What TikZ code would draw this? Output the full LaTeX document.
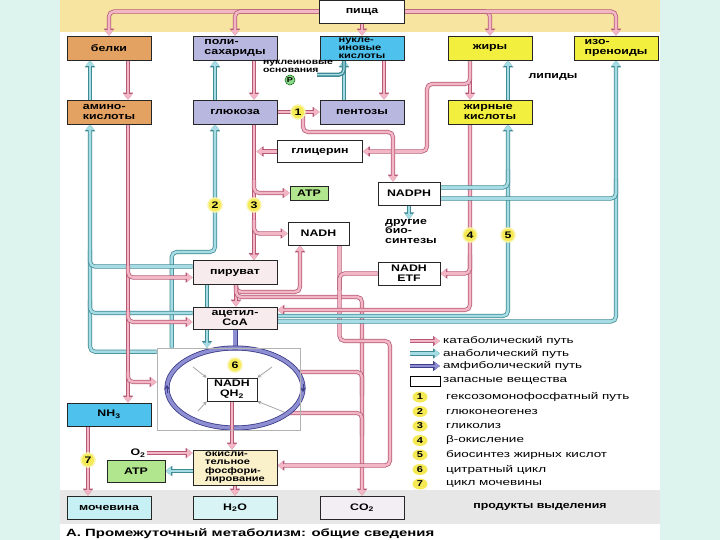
\documentclass[tikz,border=0pt]{standalone}
\usepackage{fontspec}
\setmainfont{Liberation Sans}[FakeStretch=1.3]
\newfontfamily\legf{Liberation Sans}[FakeStretch=1.42]
\usetikzlibrary{arrows.meta,shapes.geometric}
\definecolor{mint}{HTML}{DDF3EE}
\definecolor{bandY}{HTML}{F6E4A0}
\definecolor{bandG}{HTML}{E7E7E7}
\definecolor{catL}{HTML}{F2B6C4}
\definecolor{catD}{HTML}{B65A78}
\definecolor{anaL}{HTML}{A6DCE4}
\definecolor{anaD}{HTML}{3F8A94}
\definecolor{amL}{HTML}{8E8ED2}
\definecolor{amD}{HTML}{3E3E8A}
\definecolor{orng}{HTML}{E4A262}
\definecolor{lav}{HTML}{B7B7E0}
\definecolor{cyn}{HTML}{4EC2EC}
\definecolor{yel}{HTML}{F3EF3E}
\definecolor{grn}{HTML}{B2E68E}
\definecolor{ppink}{HTML}{F7EBEE}
\definecolor{pyel}{HTML}{FAF1CB}
\definecolor{lcyn}{HTML}{C6F0F4}
\definecolor{lcynb}{HTML}{D8F4F5}
\definecolor{plil}{HTML}{F3EEF3}
\definecolor{numY}{HTML}{F5EA55}
\definecolor{pgrn}{HTML}{8CD68C}
\pgfdeclarelayer{bg}
\pgfdeclarelayer{conn}
\pgfsetlayers{bg,conn,main}
\tikzset{
  flowA/.style n args={2}{draw=#2, line width=2.6pt, rounded corners=5pt,
    preaction={draw=#1, line width=4.1pt, -{Triangle[length=7pt,width=10pt]}},
    -{Triangle[length=5.5pt,width=7.4pt]}},
  flowN/.style n args={2}{draw=#2, line width=2.6pt, rounded corners=5pt,
    preaction={draw=#1, line width=4.1pt}},
  cat/.style={flowA={catD}{catL}}, catn/.style={flowN={catD}{catL}},
  ana/.style={flowA={anaD}{anaL}}, anan/.style={flowN={anaD}{anaL}},
  amph/.style={flowA={amD}{amL}}, amphn/.style={flowN={amD}{amL}},
  lbl/.style={font=\fontsize{9.5}{10}\selectfont\bfseries},
  box/.style={lbl, draw=black!85, line width=0.6pt, minimum width=84pt,
    minimum height=24pt, inner sep=1pt, align=left},
  num/.style={circle, fill=numY, draw=numY!50!white, line width=1.5pt, inner sep=0pt,
    minimum size=14pt, font=\fontsize{9.5}{9.5}\selectfont\bfseries},
  lnum/.style={ellipse, fill=numY, inner sep=0pt, minimum width=15pt,
    minimum height=11pt, font=\fontsize{8.5}{8.5}\selectfont\bfseries},
  leg/.style={anchor=west, inner sep=0pt, font=\legf\fontsize{9.5}{10}\selectfont},
  gar/.style={draw=black!35, line width=0.8pt, -{Stealth[length=4pt,width=4pt]}},
}
\begin{document}
\begin{tikzpicture}[x=1pt,y=-1pt]
\useasboundingbox (0,0) rectangle (720,540);
\begin{pgfonlayer}{bg}
  \fill[mint] (0,0) rectangle (720,540);
  \fill[white] (60,0) rectangle (660,540);
  \fill[bandY] (60,0) rectangle (660,32);
  \fill[bandG] (60,490) rectangle (660,524);
\end{pgfonlayer}

% ---------- boxes ----------
\node[box, fill=white, minimum width=85pt, minimum height=23pt, align=center] (pishcha) at (362,11.5) {пища};
\node[box, fill=orng, align=center] (belki) at (109,48) {белки};
\node[box, fill=lav] (poly) at (235,48) {поли-\\сахариды};
\node[box, fill=cyn, font=\fontsize{8.5}{8}\selectfont\bfseries] (nuc) at (362,48) {нукле-\\иновые\\кислоты};
\node[box, fill=yel, align=center] (zhiry) at (490,48) {жиры};
\node[box, fill=yel] (izo) at (616,48) {изо-\\преноиды};

\node[box, fill=orng] (amino) at (109,112) {амино-\\кислоты};
\node[box, fill=lav, align=center] (gluc) at (235,112) {глюкоза};
\node[box, fill=lav, align=center] (pent) at (362,112) {пентозы};
\node[box, fill=yel] (fatty) at (490,112) {жирные\\кислоты};

\node[box, fill=white, minimum width=85pt, minimum height=22pt, align=center] (glyc) at (320,151.5) {глицерин};
\node[box, fill=grn, minimum width=38pt, minimum height=14pt, align=center] (atpA) at (309,193) {ATP};
\node[box, fill=white, minimum width=62pt, minimum height=23pt, align=center] (nadph) at (409,193.5) {NADPH};
\node[box, fill=white, minimum width=61pt, minimum height=23pt, align=center] (nadh) at (318.5,233.5) {NADH};
\node[box, fill=ppink, minimum height=24pt, align=center] (pyr) at (235,272.5) {пируват};
\node[box, fill=white, minimum width=62pt, minimum height=23pt, align=center] (etf) at (409,273.5) {NADH\\ETF};
\node[box, fill=ppink, minimum height=22pt, align=center] (acoa) at (235,318) {ацетил-\\CoA};
\node[draw=black!30, line width=0.6pt, minimum width=143pt, minimum height=82pt, inner sep=0pt] (cyc) at (228.5,389) {};
\node[box, fill=white, minimum width=50pt, minimum height=23pt, align=center] (nadhq) at (232,389.5) {NADH\\QH\textsubscript{2}};
\node[box, fill=cyn, minimum height=23pt, align=center] (nh3) at (109,414.5) {NH\textsubscript{3}};
\node[box, fill=grn, minimum width=58pt, minimum height=22pt, align=center] (atpB) at (136,471) {ATP};
\node[box, fill=pyel, minimum height=35pt, font=\fontsize{8.5}{8.2}\selectfont\bfseries] (ox) at (235,467.5) {окисли-\\тельное\\фосфори-\\лирование};
\node[box, fill=lcyn, minimum height=23pt, align=center] (urea) at (109,507.5) {мочевина};
\node[box, fill=lcynb, minimum height=23pt, align=center] (h2o) at (235,507.5) {H\textsubscript{2}O};
\node[box, fill=plil, minimum height=23pt, align=center] (co2) at (362,507.5) {CO\textsubscript{2}};

% ---------- free texts ----------
\node[align=left, inner sep=0pt, font=\fontsize{8}{8}\selectfont\bfseries] (nbase) at (298,66) {нуклеиновые\\основания};
\node[circle, fill=pgrn, draw=green!40!black, line width=0.5pt, inner sep=0pt, minimum size=10pt, font=\fontsize{7}{7}\selectfont\bfseries] (pcirc) at (290,80) {P};
\node[lbl, inner sep=0pt] (lip) at (553,77) {липиды};
\node[lbl, anchor=north west, align=left, inner sep=0pt, font=\fontsize{9.5}{9.5}\selectfont\bfseries] (bio) at (385,219) {другие\\био-\\синтезы};
\node[lbl, inner sep=1pt] (o2) at (138,453) {O\textsubscript{2}};

% ---------- connectors ----------
\begin{pgfonlayer}{conn}
  % food
  \draw[cat] (pishcha.west) -| (belki.north);
  \draw[cat] (pishcha.west) -| (poly.north);
  \draw[cat] (pishcha.south) -- (nuc.north);
  \draw[cat] (pishcha.east) -| (zhiry.north);
  \draw[cat] (pishcha.east) -| (izo.north);
  % top to second row
  \draw[ana] ([xshift=-19]amino.north) -- ([xshift=-19]belki.south);
  \draw[cat] ([xshift=19]belki.south) -- ([xshift=19]amino.north);
  \draw[ana] ([xshift=-20]gluc.north) -- ([xshift=-20]poly.south);
  \draw[cat] ([xshift=19]poly.south) -- ([xshift=19]gluc.north);
  \draw[ana] ([xshift=-18]pent.north) -- ([xshift=-18]nuc.south);
  \draw[cat] ([xshift=22]nuc.south) -- ([xshift=22]pent.north);
  \draw[anan, line width=1.2pt, preaction={draw=anaD, line width=2.2pt}] ([xshift=-16]nbase.east |- pcirc.north) -| ([xshift=-18]nuc.south);
  \draw[ana] ([xshift=18]fatty.north) -- ([xshift=18]zhiry.south);
  \draw[cat] ([xshift=-20]zhiry.south) -- ([xshift=-20]fatty.north);
  \draw[cat] ([xshift=-20]zhiry.south) |- (427,84) |- (glyc.east);
  % pentose phosphate
  \draw[cat] (gluc.east) -- (pent.west);
  \draw[cat] (303,112) |- (393,132) -- ([xshift=-16]nadph.north);
  % glycolysis
  \draw[cat] ([xshift=19]gluc.south) -- ([xshift=19]pyr.north);
  \draw[cat] (glyc.west) -- (256.5,151.5);
  \draw[cat] (254,180) |- (atpA.west);
  \draw[cat] (254,220) |- (nadh.west);
  % gluconeogenesis
  \draw[ana] ([xshift=15]cyc.north west) |- (215,252) -- ([xshift=-20]gluc.south);
  \draw[ana] (207,284.5) -- (207,348);
  % amino acids
  \draw[ana] ([yshift=-4]cyc.north west) -| ([xshift=-19]amino.south);
  \draw[anan] ([yshift=6]pyr.west) -| (90,250);
  \draw[anan] ([yshift=5]acoa.west) -| (90,300);
  \draw[cat] ([xshift=19]amino.south) -- ([xshift=19]nh3.north);
  \draw[cat] (128,266) |- ([yshift=-5]pyr.west);
  \draw[cat] (128,312) |- ([yshift=-4]acoa.west);
  \draw[cat] (128,372) |- ([yshift=7]cyc.west);
  % pyruvate
  \draw[cat] ([xshift=1]pyr.south) -- ([xshift=1]acoa.north);
  \draw[cat] (236,284) |- (262,292) -| ([xshift=-18.5]nadh.south);
  \draw[cat] (236,284) |- (300,297) -| (co2.north);
  % NADH to oxidative phosphorylation
  \draw[cat] ([xshift=21]nadh.south) |- (390,341) |- ([yshift=2]ox.east);
  \draw[catn] (etf.west) -| (339.5,290);
  % fatty acids
  \draw[cat] ([xshift=-20]fatty.south) |- ([yshift=8]acoa.east);
  \draw[cat] (470,255) |- (etf.east);
  \draw[ana] ([yshift=2]acoa.east) -| ([xshift=18]fatty.south);
  \draw[ana] ([yshift=-3.5]acoa.east) -| (izo.south);
  \draw[anan] ([yshift=6]nadph.east) -| (508,170);
  \draw[anan] ([yshift=-5]nadph.east) -| (616,180);
  \draw[ana] (nadph.south) -- ++(0,14);
  % citrate cycle
  \draw[catn] (297,372) -| (362,395);
  \draw[catn] (288,413) -| (362,435);
  \draw[amphn, line width=3.4pt, preaction={draw=amD, line width=5pt}] (acoa.south) -- (235,349);
  \draw[amphn, line width=3.4pt, preaction={draw=amD, line width=5pt}] (235,388) ellipse [x radius=68, y radius=40];
  \draw[amD, line width=1pt, -{Stealth[length=4.5pt,width=6pt]}] (167,393) -- (167,385);
  \draw[amD, line width=1pt, -{Stealth[length=4.5pt,width=6pt]}] (303,384) -- (303,392);
  \draw[gar] (193,367) -- (nadhq.north west);
  \draw[gar] (272,367) -- (nadhq.north east);
  \draw[gar] (198,411) -- (nadhq.south west);
  \draw[gar] (284,412) -- (nadhq.south east);
  % respiration chain, urea
  \draw[cat] (nadhq.south) -- (nadhq.south |- ox.north);
  \draw[cat] (ox.south) -- (h2o.north);
  \draw[ana] (ox.west |- atpB.east) -- (atpB.east);
  \draw[cat] (o2.east) -- (o2.east -| ox.west);
  \draw[cat] ([xshift=-21]nh3.south) -- ([xshift=-21]urea.north);
  % legend arrows
  \draw[cat] (410,341) -- (440,341);
  \draw[ana] (410,353.5) -- (440,353.5);
  \draw[amph] (410,366) -- (440,366);
\end{pgfonlayer}

% ---------- numbers ----------
\node[num] (n1) at (298,112) {1};
\node[num] (n2) at (215,205) {2};
\node[num] (n3) at (254,205) {3};
\node[num] (n4) at (470,235) {4};
\node[num] (n5) at (508,235) {5};
\node[num] (n6) at (235,365) {6};
\node[num] (n7) at (88,460) {7};

% ---------- legend ----------
\node[leg] (l1) at (443,341) {катаболический путь};
\node[leg] (l2) at (443,353.5) {анаболический путь};
\node[leg] (l3) at (443,366) {амфиболический путь};
\node[draw=black, line width=0.7pt, fill=white, minimum width=30pt, minimum height=10pt, inner sep=0pt] (zap) at (425,381) {};
\node[leg] (l4) at (443,381) {запасные вещества};
\foreach \i/\t in {1/гексозомонофосфатный путь, 2/глюконеогенез, 3/гликолиз, 4/β-окисление, 5/биосинтез жирных кислот, 6/цитратный цикл, 7/цикл мочевины}{
  \node[lnum] (ln\i) at (420,{397+14.5*(\i-1)}) {\i};
  \node[leg] (lt\i) at (446,{397+14.5*(\i-1)}) {\t};
}
\node[lbl, inner sep=0pt] (prod) at (540,507) {продукты выделения};
\node[anchor=west, inner sep=0pt, font=\legf\fontsize{10.5}{11}\selectfont\bfseries] (title) at (66,534) {А. Промежуточный метаболизм: общие сведения};
\end{tikzpicture}
\end{document}
